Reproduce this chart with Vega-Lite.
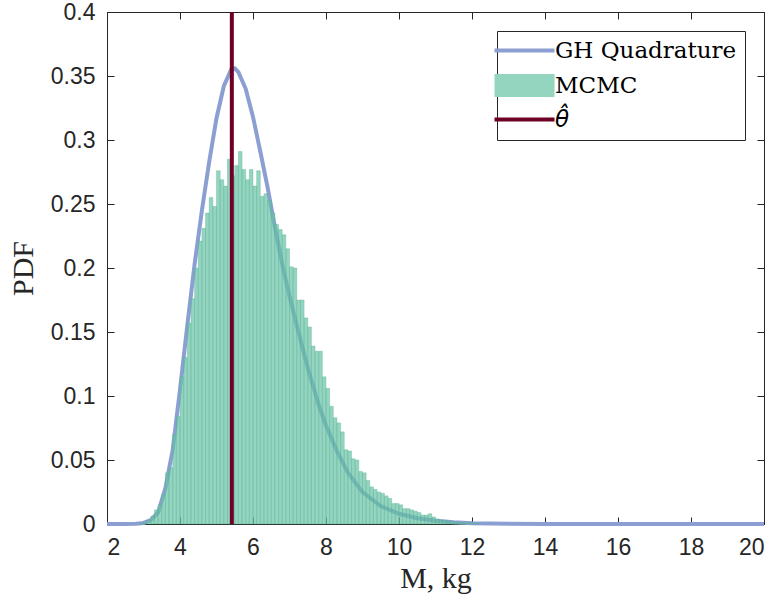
{
  "$schema": "https://vega.github.io/schema/vega-lite/v6.json",
  "width": 657,
  "height": 512,
  "autosize": {"type": "none"},
  "padding": {"left": 107, "top": 12, "right": 16, "bottom": 77},
  "background": "white",
  "datasets": {
    "curve": [
      {"m": 2.0, "pdf": 0}, {"m": 2.5, "pdf": 0}, {"m": 2.8, "pdf": 0.0002}, {"m": 3.0, "pdf": 0.0008},
      {"m": 3.2, "pdf": 0.003}, {"m": 3.4, "pdf": 0.009}, {"m": 3.6, "pdf": 0.028}, {"m": 3.8, "pdf": 0.058},
      {"m": 4.0, "pdf": 0.105}, {"m": 4.2, "pdf": 0.155}, {"m": 4.4, "pdf": 0.203}, {"m": 4.6, "pdf": 0.245},
      {"m": 4.8, "pdf": 0.283}, {"m": 5.0, "pdf": 0.317}, {"m": 5.2, "pdf": 0.342}, {"m": 5.4, "pdf": 0.355},
      {"m": 5.5, "pdf": 0.356}, {"m": 5.6, "pdf": 0.353}, {"m": 5.8, "pdf": 0.340}, {"m": 6.0, "pdf": 0.318},
      {"m": 6.2, "pdf": 0.291}, {"m": 6.4, "pdf": 0.263}, {"m": 6.6, "pdf": 0.232}, {"m": 6.8, "pdf": 0.203},
      {"m": 7.0, "pdf": 0.178}, {"m": 7.2, "pdf": 0.155}, {"m": 7.5, "pdf": 0.122}, {"m": 7.8, "pdf": 0.093},
      {"m": 8.0, "pdf": 0.077}, {"m": 8.3, "pdf": 0.057}, {"m": 8.6, "pdf": 0.040}, {"m": 9.0, "pdf": 0.025},
      {"m": 9.5, "pdf": 0.014}, {"m": 10.0, "pdf": 0.008}, {"m": 10.5, "pdf": 0.0045}, {"m": 11.0, "pdf": 0.0025},
      {"m": 11.5, "pdf": 0.0013}, {"m": 12.0, "pdf": 0.0006}, {"m": 13.0, "pdf": 0.0001}, {"m": 14.0, "pdf": 0},
      {"m": 20.0, "pdf": 0}
    ],
    "hist": [
      {"lo": 2.9, "hi": 3.0, "h": 0.0005}, {"lo": 3.0, "hi": 3.1, "h": 0.001}, {"lo": 3.1, "hi": 3.2, "h": 0.003},
      {"lo": 3.2, "hi": 3.3, "h": 0.006}, {"lo": 3.3, "hi": 3.4, "h": 0.011}, {"lo": 3.4, "hi": 3.5, "h": 0.015},
      {"lo": 3.5, "hi": 3.6, "h": 0.023}, {"lo": 3.6, "hi": 3.7, "h": 0.040}, {"lo": 3.7, "hi": 3.8, "h": 0.044},
      {"lo": 3.8, "hi": 3.9, "h": 0.070}, {"lo": 3.9, "hi": 4.0, "h": 0.084}, {"lo": 4.0, "hi": 4.1, "h": 0.115},
      {"lo": 4.1, "hi": 4.2, "h": 0.130}, {"lo": 4.2, "hi": 4.3, "h": 0.157}, {"lo": 4.3, "hi": 4.4, "h": 0.176},
      {"lo": 4.4, "hi": 4.5, "h": 0.200}, {"lo": 4.5, "hi": 4.6, "h": 0.221}, {"lo": 4.6, "hi": 4.7, "h": 0.231},
      {"lo": 4.7, "hi": 4.8, "h": 0.243}, {"lo": 4.8, "hi": 4.9, "h": 0.255}, {"lo": 4.9, "hi": 5.0, "h": 0.248},
      {"lo": 5.0, "hi": 5.1, "h": 0.276}, {"lo": 5.1, "hi": 5.2, "h": 0.269}, {"lo": 5.2, "hi": 5.3, "h": 0.264},
      {"lo": 5.3, "hi": 5.4, "h": 0.285}, {"lo": 5.4, "hi": 5.5, "h": 0.272}, {"lo": 5.5, "hi": 5.6, "h": 0.280},
      {"lo": 5.6, "hi": 5.7, "h": 0.291}, {"lo": 5.7, "hi": 5.8, "h": 0.277}, {"lo": 5.8, "hi": 5.9, "h": 0.269},
      {"lo": 5.9, "hi": 6.0, "h": 0.277}, {"lo": 6.0, "hi": 6.1, "h": 0.264}, {"lo": 6.1, "hi": 6.2, "h": 0.276},
      {"lo": 6.2, "hi": 6.3, "h": 0.256}, {"lo": 6.3, "hi": 6.4, "h": 0.258}, {"lo": 6.4, "hi": 6.5, "h": 0.253},
      {"lo": 6.5, "hi": 6.6, "h": 0.243}, {"lo": 6.6, "hi": 6.7, "h": 0.234}, {"lo": 6.7, "hi": 6.8, "h": 0.230},
      {"lo": 6.8, "hi": 6.9, "h": 0.226}, {"lo": 6.9, "hi": 7.0, "h": 0.215}, {"lo": 7.0, "hi": 7.1, "h": 0.201},
      {"lo": 7.1, "hi": 7.2, "h": 0.200}, {"lo": 7.2, "hi": 7.3, "h": 0.175}, {"lo": 7.3, "hi": 7.4, "h": 0.175},
      {"lo": 7.4, "hi": 7.5, "h": 0.161}, {"lo": 7.5, "hi": 7.6, "h": 0.154}, {"lo": 7.6, "hi": 7.7, "h": 0.139},
      {"lo": 7.7, "hi": 7.8, "h": 0.135}, {"lo": 7.8, "hi": 7.9, "h": 0.135}, {"lo": 7.9, "hi": 8.0, "h": 0.115},
      {"lo": 8.0, "hi": 8.1, "h": 0.106}, {"lo": 8.1, "hi": 8.2, "h": 0.092}, {"lo": 8.2, "hi": 8.3, "h": 0.083},
      {"lo": 8.3, "hi": 8.4, "h": 0.079}, {"lo": 8.4, "hi": 8.5, "h": 0.072}, {"lo": 8.5, "hi": 8.6, "h": 0.058},
      {"lo": 8.6, "hi": 8.7, "h": 0.057}, {"lo": 8.7, "hi": 8.8, "h": 0.051}, {"lo": 8.8, "hi": 8.9, "h": 0.050},
      {"lo": 8.9, "hi": 9.0, "h": 0.041}, {"lo": 9.0, "hi": 9.1, "h": 0.040}, {"lo": 9.1, "hi": 9.2, "h": 0.034},
      {"lo": 9.2, "hi": 9.3, "h": 0.029}, {"lo": 9.3, "hi": 9.4, "h": 0.027}, {"lo": 9.4, "hi": 9.5, "h": 0.025},
      {"lo": 9.5, "hi": 9.6, "h": 0.024}, {"lo": 9.6, "hi": 9.7, "h": 0.022}, {"lo": 9.7, "hi": 9.8, "h": 0.020},
      {"lo": 9.8, "hi": 9.9, "h": 0.016}, {"lo": 9.9, "hi": 10.0, "h": 0.016}, {"lo": 10.0, "hi": 10.1, "h": 0.015},
      {"lo": 10.1, "hi": 10.2, "h": 0.012}, {"lo": 10.2, "hi": 10.3, "h": 0.012}, {"lo": 10.3, "hi": 10.4, "h": 0.011},
      {"lo": 10.4, "hi": 10.5, "h": 0.010}, {"lo": 10.5, "hi": 10.6, "h": 0.009}, {"lo": 10.6, "hi": 10.7, "h": 0.007},
      {"lo": 10.7, "hi": 10.8, "h": 0.007}, {"lo": 10.8, "hi": 10.9, "h": 0.008}, {"lo": 10.9, "hi": 11.0, "h": 0.0055},
      {"lo": 11.0, "hi": 11.1, "h": 0.004}, {"lo": 11.1, "hi": 11.2, "h": 0.003}, {"lo": 11.2, "hi": 11.3, "h": 0.003},
      {"lo": 11.3, "hi": 11.4, "h": 0.002}, {"lo": 11.4, "hi": 11.5, "h": 0.002}, {"lo": 11.5, "hi": 11.6, "h": 0.0015},
      {"lo": 11.6, "hi": 11.7, "h": 0.0015}, {"lo": 11.7, "hi": 11.8, "h": 0.001}, {"lo": 11.8, "hi": 11.9, "h": 0.001},
      {"lo": 11.9, "hi": 12.0, "h": 0.0008}, {"lo": 12.0, "hi": 12.1, "h": 0.0005}, {"lo": 12.1, "hi": 12.2, "h": 0.0003}
    ],
    "est": [{"theta": 5.42}]
  },
  "layer": [
    {
      "data": {"name": "curve"},
      "mark": {"type": "line", "strokeWidth": 4, "clip": false},
      "encoding": {
        "x": {"field": "m", "type": "quantitative", "scale": {"domain": [2, 20], "nice": false, "zero": false},
              "axis": {"orient": "bottom", "values": [2,4,6,8,10,12,14,16,18,20], "format": "~g", "title": "M, kg", "labelPadding": 19, "titlePadding": 4}},
        "y": {"field": "pdf", "type": "quantitative", "scale": {"domain": [0, 0.4], "nice": false},
              "axis": {"orient": "left", "values": [0,0.05,0.1,0.15,0.2,0.25,0.3,0.35,0.4], "format": "~g", "title": "PDF", "labelPadding": 19, "titlePadding": 12}},
        "color": {"datum": "GH Quadrature", "type": "nominal",
          "scale": {"domain": ["GH Quadrature", "MCMC", "θ̂"], "range": ["#8c9fd2", "#93d5bf", "#6e0026"]},
          "legend": {
            "orient": "top-right", "offset": 19, "title": null,
            "strokeColor": "#262626", "fillColor": "white", "padding": 8,
            "labelFont": "DejaVu Serif", "labelFontSize": 23, "labelColor": "#000000", "labelLimit": 400,
            "symbolSize": 1024, "rowPadding": 10, "labelOffset": 19, "symbolOffset": 8, "symbolStrokeWidth": 4,
            "encode": {
              "symbols": {"update": {
                "shape": {"signal": "datum.value === 'MCMC' ? 'M-1.875,-0.72L1.875,-0.72L1.875,0.72L-1.875,0.72Z' : 'M-1.875,0L1.875,0'"},
                "fill": {"signal": "datum.value === 'MCMC' ? '#93d5bf' : 'transparent'"},
                "stroke": {"signal": "datum.value === 'MCMC' ? '#93d5bf' : (datum.value === 'GH Quadrature' ? '#8c9fd2' : '#6e0026')"},
                "strokeWidth": {"signal": "datum.value === 'MCMC' ? 0 : 4"},
                "opacity": {"value": 1}, "fillOpacity": {"value": 1}, "strokeOpacity": {"value": 1}
              }},
              "labels": {"update": {"font": {"signal": "datum.value === 'θ̂' ? 'DejaVu Sans' : 'DejaVu Serif'"}, "fontStyle": {"signal": "datum.value === 'θ̂' ? 'oblique' : 'normal'"}}}
            }
          }
        }
      }
    },
    {
      "data": {"name": "hist"},
      "mark": {"type": "bar", "fill": "#66c2a5", "fillOpacity": 0.7, "stroke": "#4fae8e", "strokeWidth": 0.6, "strokeOpacity": 0.55},
      "encoding": {
        "x": {"field": "lo", "type": "quantitative", "scale": {"domain": [2, 20], "nice": false, "zero": false},
              "axis": {"orient": "top", "values": [2,4,6,8,10,12,14,16,18,20], "labels": false, "title": null}},
        "x2": {"field": "hi"},
        "y": {"field": "h", "type": "quantitative", "scale": {"domain": [0, 0.4], "nice": false},
              "axis": {"orient": "right", "values": [0,0.05,0.1,0.15,0.2,0.25,0.3,0.35,0.4], "labels": false, "title": null}},
        "y2": {"datum": 0}
      }
    },
    {
      "data": {"name": "est"},
      "mark": {"type": "rule", "strokeWidth": 4},
      "encoding": {
        "x": {"field": "theta", "type": "quantitative", "axis": null},
        "color": {"datum": "θ̂", "type": "nominal"}
      }
    }
  ],
  "resolve": {"axis": {"x": "independent", "y": "independent"}},
  "config": {
    "view": {"stroke": "#262626", "strokeWidth": 1},
    "axis": {
      "grid": false, "domainColor": "#262626", "tickColor": "#262626", "tickSize": -7, "tickWidth": 1,
      "labelColor": "#262626", "labelFont": "Liberation Sans", "labelFontSize": 23,
      "titleFont": "Liberation Serif", "titleFontSize": 30, "titleFontWeight": "normal", "titleColor": "#262626"
    }
  }
}
